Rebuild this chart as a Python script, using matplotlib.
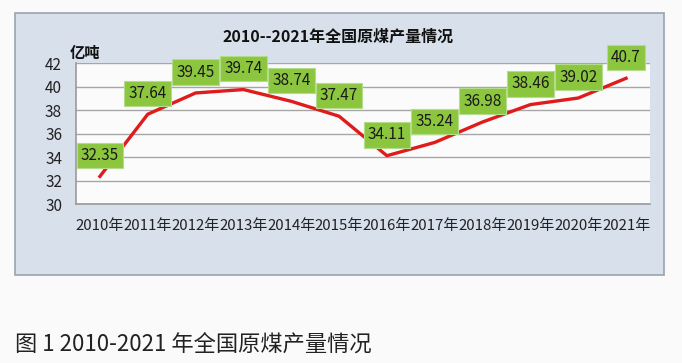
import matplotlib
matplotlib.use("Agg")
import matplotlib.pyplot as plt
from matplotlib.patches import Rectangle

plt.rcParams['font.family'] = ['Noto Sans CJK SC', 'DejaVu Sans']

years = ["2010年", "2011年", "2012年", "2013年", "2014年", "2015年",
         "2016年", "2017年", "2018年", "2019年", "2020年", "2021年"]
output = [32.35, 37.64, 39.45, 39.74, 38.74, 37.47,
          34.11, 35.24, 36.98, 38.46, 39.02, 40.7]
labels = ["32.35", "37.64", "39.45", "39.74", "38.74", "37.47",
          "34.11", "35.24", "36.98", "38.46", "39.02", "40.7"]
yticks = [30, 32, 34, 36, 38, 40, 42]
title = "2010--2021年全国原煤产量情况"
unit = "亿吨"
caption = "图 1 2010-2021 年全国原煤产量情况"

W, H = 682, 363
fig = plt.figure(figsize=(W / 100, H / 100), dpi=100)
fig.patch.set_facecolor("#fafafa")

# chart frame
frame = Rectangle((15 / W, 1 - 275 / H), (664 - 15) / W, (275 - 13) / H,
                  transform=fig.transFigure, facecolor="#d8e1eb",
                  edgecolor="#9aa3ad", linewidth=1.2, zorder=-10)
fig.patches.append(frame)

ax = fig.add_axes([76 / W, 1 - 204 / H, (650 - 76) / W, (204 - 63) / H])
ax.set_zorder(1)
ax.set_facecolor("#fbfbfb")
x = list(range(len(years)))
ax.plot(x, output, color="#e01b1b", linewidth=2.4, zorder=3)
ax.set_xlim(-0.5, len(years) - 0.5)
ax.set_ylim(30, 42)
ax.set_yticks(yticks)
ax.set_xticks(x)
ax.set_xticklabels(years, fontsize=10.8, color="#222222")
ax.tick_params(axis="y", labelsize=11, colors="#222222", length=0, pad=10)
ax.tick_params(axis="x", length=0, pad=11)
ax.grid(axis="y", color="#a6a6a6", linewidth=1)
ax.set_axisbelow(True)
for s in ["top", "right"]:
    ax.spines[s].set_visible(False)
for s in ["left", "bottom"]:
    ax.spines[s].set_color("#9a9a9a")
    ax.spines[s].set_linewidth(1.2)

for xi, yi, lab in zip(x, output, labels):
    ax.annotate(lab, (xi, yi), xytext=(0, 15), textcoords="offset points",
                ha="center", va="center", fontsize=11, color="#1a1a1a",
                bbox=dict(boxstyle="square,pad=0.28", facecolor="#8cc63f",
                          edgecolor="#b5dc8a", linewidth=0.8), zorder=5,
                annotation_clip=False)

fig.text(338 / W, 1 - 37 / H, title, ha="center", va="center",
         fontsize=11.5, fontweight="bold", color="#111111")
fig.text(70 / W, 1 - 53 / H, unit, ha="left", va="center",
         fontsize=11, fontweight="bold", color="#111111")
fig.text(15 / W, 1 - 345 / H, caption, ha="left", va="center",
         fontsize=16, color="#222222")

fig.savefig("out.png", dpi=100, facecolor=fig.get_facecolor())
